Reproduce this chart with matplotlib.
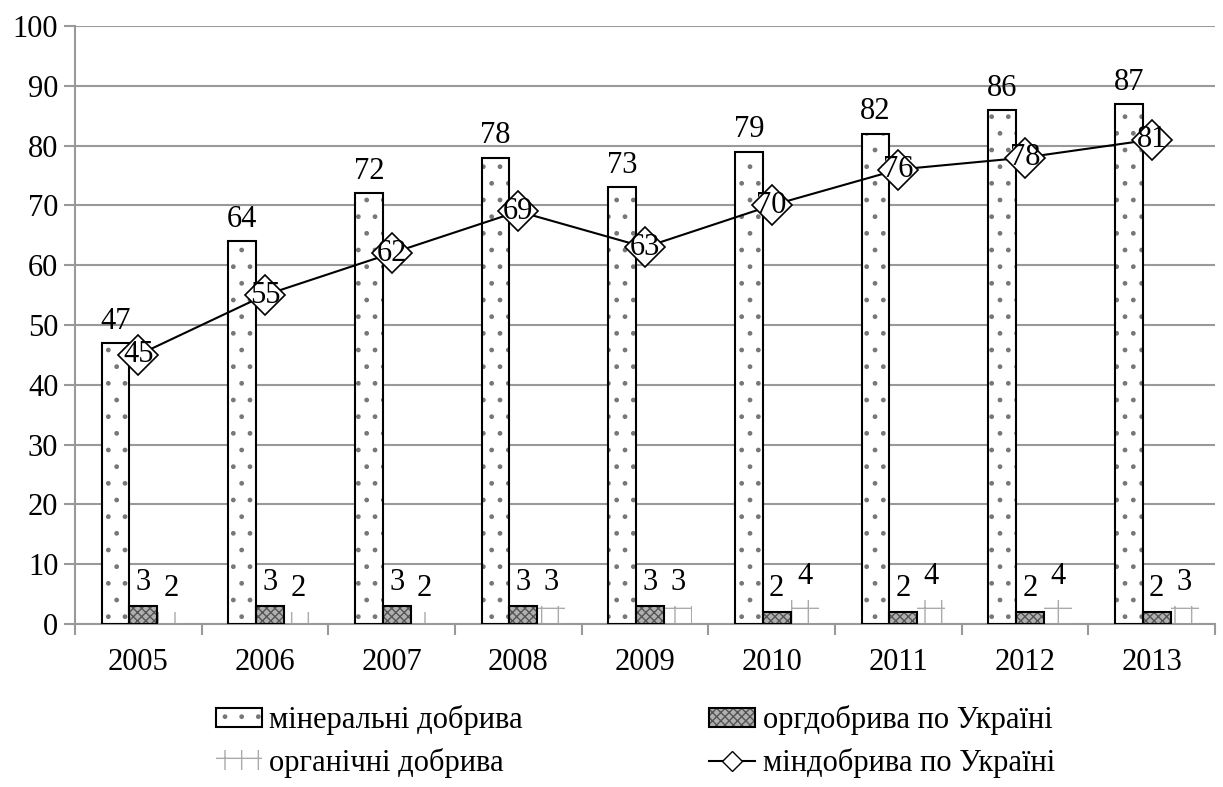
import matplotlib.pyplot as plt
import numpy as np
from matplotlib.patches import Patch
from matplotlib.lines import Line2D
from matplotlib.legend_handler import HandlerTuple

years = ["2005", "2006", "2007", "2008", "2009", "2010", "2011", "2012", "2013"]
mineral = [47, 64, 72, 78, 73, 79, 82, 86, 87]
org_ukraine = [3, 3, 3, 3, 3, 2, 2, 2, 2]
organic = [2, 2, 2, 3, 3, 4, 4, 4, 3]
min_ukraine = [45, 55, 62, 69, 63, 70, 76, 78, 81]

plt.rcParams["font.family"] = ["Liberation Serif", "DejaVu Serif"]
plt.rcParams["hatch.linewidth"] = 1.0

fig = plt.figure(figsize=(12.23, 7.87), dpi=100)
ax = fig.add_axes([75 / 1223, 1 - 624 / 787, 1140 / 1223, 598 / 787])

x = np.arange(len(years))
w = 0.22
off = 0.04

# mineral fertilisers: white with sparse dots, black border
ax.bar(x - w + off, mineral, w, color="white", edgecolor="#777777",
       hatch=".", linewidth=0, zorder=2)
ax.bar(x - w + off, mineral, w, fill=False, edgecolor="black", linewidth=1.5, zorder=3)

# org fertilisers (Ukraine): dense dark checker, black border
ax.bar(x + off, org_ukraine, w, color="#b0b0b0", edgecolor="#555555",
       hatch="xxxx", linewidth=0, zorder=2)
ax.bar(x + off, org_ukraine, w, fill=False, edgecolor="black", linewidth=1.5, zorder=3)

# organic fertilisers: light cross pattern, no border
ax.bar(x + w + off, organic, w, color="white", edgecolor="#aaaaaa",
       hatch="+", linewidth=0, zorder=2)

ax.plot(x, min_ukraine, color="black", linewidth=1.5, marker="D", markersize=20,
        markerfacecolor="white", markeredgecolor="black", markeredgewidth=1.2, zorder=4)

fs = 22
for i in range(len(years)):
    ax.text(x[i] - w + off, mineral[i] + 1.2, str(mineral[i]), ha="center", va="bottom", fontsize=fs)
    ax.text(x[i] + off, org_ukraine[i] + 1.5, str(org_ukraine[i]), ha="center", va="bottom", fontsize=fs)
    ax.text(x[i] + w + off, organic[i] + 1.5, str(organic[i]), ha="center", va="bottom", fontsize=fs)
    ax.text(x[i], min_ukraine[i], str(min_ukraine[i]), ha="center", va="center", fontsize=fs, zorder=5)

ax.set_xlim(-0.5, len(years) - 0.5)
ax.set_ylim(0, 100)
ax.set_yticks(range(0, 101, 10))
ax.set_xticks(x)
ax.set_xticklabels(years)
ax.set_xticks(np.arange(-0.5, len(years), 1.0), minor=True)
ax.tick_params(axis="x", which="major", length=0, labelsize=22, pad=17)
ax.tick_params(axis="x", which="minor", length=8, color="#999999", width=1.5)
ax.tick_params(axis="y", length=8, color="#999999", width=1.5, labelsize=22, pad=4)
ax.grid(axis="y", color="#999999", linewidth=1.5, zorder=0)
ax.set_axisbelow(True)
for s in ["top", "right"]:
    ax.spines[s].set_visible(False)
for s in ["left", "bottom"]:
    ax.spines[s].set_color("#999999")
    ax.spines[s].set_linewidth(1.5)

h_min = (Patch(facecolor="white", edgecolor="#777777", hatch=".", linewidth=0),
         Patch(fill=False, edgecolor="black", linewidth=1.5))
h_org = (Patch(facecolor="#b0b0b0", edgecolor="#555555", hatch="xxxx", linewidth=0),
         Patch(fill=False, edgecolor="black", linewidth=1.5))
h_organic = Patch(facecolor="white", edgecolor="#aaaaaa", hatch="+", linewidth=0)
h_line = Line2D([], [], color="black", linewidth=1.5, marker="D", markersize=10,
                markerfacecolor="white", markeredgecolor="black")

fig.legend([h_min, h_organic, h_org, h_line],
           ["мінеральні добрива", "органічні добрива", "оргдобрива по Україні", "міндобрива по Україні"],
           handler_map={tuple: HandlerTuple(ndivide=1, pad=0)},
           loc="upper left", bbox_to_anchor=(216 / 1223, 1 - 705 / 787), ncol=2, frameon=False,
           borderpad=0, borderaxespad=0,
           fontsize=22, columnspacing=6.1, handlelength=1.5, handleheight=0.6,
           handletextpad=0.25, labelspacing=0.42)

fig.savefig("out.png", dpi=100)
